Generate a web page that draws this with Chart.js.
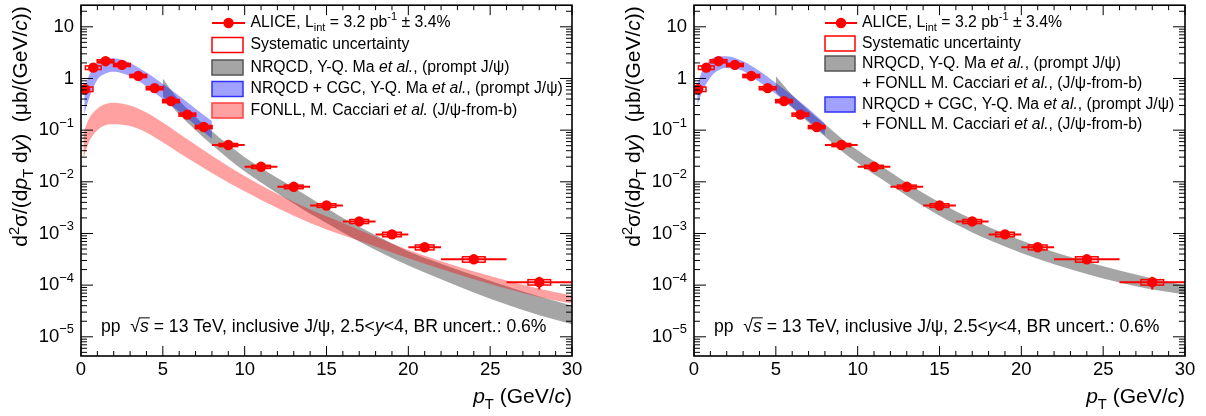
<!DOCTYPE html>
<html>
<head>
<meta charset="utf-8">
<script src="https://cdn.jsdelivr.net/npm/chart.js@4.4.1/dist/chart.umd.min.js"></script>
<style>
  html, body { margin: 0; padding: 0; background: #fff; }
  #wrap { position: relative; width: 1206px; height: 416px; }
  canvas { position: absolute; top: 0; }
</style>
</head>
<body>
<div id="wrap">
  <canvas id="left" width="603" height="416" style="left:0"></canvas>
  <canvas id="right" width="603" height="416" style="left:603px"></canvas>
</div>
<script>
// ALICE inclusive J/psi, pp 13 TeV, 2.5<y<4
const pt     = [0.25, 0.75, 1.5, 2.5, 3.5, 4.5, 5.5, 6.5, 7.5, 9, 11, 13, 15, 17, 19, 21, 24, 28];
const ptLow  = [0, 0.5, 1, 2, 3, 4, 5, 6, 7, 8, 10, 12, 14, 16, 18, 20, 22, 26];
const ptHigh = [0.5, 1, 2, 3, 4, 5, 6, 7, 8, 10, 12, 14, 16, 18, 20, 22, 26, 30];
const xsec   = [0.62, 1.62, 2.16, 1.83, 1.12, 0.65, 0.365, 0.2, 0.115, 0.0516, 0.0195, 0.008,
                0.00348, 0.00171, 9.6e-4, 5.4e-4, 3.16e-4, 1.14e-4];
const statPct = [1, 1, 1, 1, 1, 1, 1, 1, 1, 1.5, 2, 2.5, 3, 4, 5, 6, 8, 28];
const systPct = [10, 8, 7, 7, 7, 7, 7, 7, 7, 7, 7, 8, 8, 9, 10, 11, 12, 12];

// NRQCD prompt (left panel)
const nrqcdPt = [5, 5.5, 6, 7, 8, 9, 10, 11, 12, 13, 14, 15, 16, 17, 18, 19, 20, 22, 24, 26, 28, 30];
const nrqcdHi = [1.0, 0.6, 0.38, 0.18, 0.095, 0.052, 0.03, 0.0185, 0.0118, 0.0077, 0.0049, 0.0031,
                 0.002, 0.00135, 9.2e-4, 6.4e-4, 4.5e-4, 2.6e-4, 1.55e-4, 9.5e-5, 6.0e-5, 4.0e-5];
const nrqcdLo = [0.45, 0.3, 0.2, 0.1, 0.052, 0.028, 0.016, 0.0097, 0.006, 0.0038, 0.0024, 0.0016,
                 0.00105, 7.0e-4, 4.8e-4, 3.35e-4, 2.4e-4, 1.3e-4, 7.2e-5, 4.2e-5, 2.6e-5, 1.75e-5];

// NRQCD + CGC prompt (left panel)
const cgcPt = [0.2, 0.5, 1, 1.5, 2, 3, 4, 5, 6, 7, 8];
const cgcHi = [0.62, 1.15, 1.9, 2.35, 2.45, 2.0, 1.3, 0.78, 0.46, 0.26, 0.15];
const cgcLo = [0.2, 0.42, 0.95, 1.25, 1.35, 1.1, 0.7, 0.4, 0.23, 0.125, 0.068];

// FONLL non-prompt (left panel)
const fonllPt = [0.15, 0.5, 1, 1.5, 2, 3, 4, 5, 6, 7, 8, 9, 10, 12, 14, 16, 18, 20, 22, 25, 28, 30];
const fonllHi = [0.09, 0.17, 0.26, 0.32, 0.34, 0.30, 0.22, 0.14, 0.085, 0.052, 0.032, 0.02, 0.013,
                 0.0058, 0.0029, 0.0016, 8.6e-4, 4.8e-4, 2.9e-4, 1.5e-4, 8.5e-5, 6.3e-5];
const fonllLo = [0.028, 0.06, 0.1, 0.125, 0.13, 0.12, 0.09, 0.058, 0.036, 0.023, 0.0148, 0.0097, 0.0066,
                 0.0031, 0.0016, 9.2e-4, 5.6e-4, 3.3e-4, 2.05e-4, 1.05e-4, 5.9e-5, 4.4e-5];

// NRQCD + FONLL (right panel)
const combPt = [5, 5.5, 6, 7, 8, 9, 10, 11, 12, 13, 14, 15, 16, 17, 18, 20, 22, 24, 26, 28, 30];
const combHi = [1.1, 0.72, 0.48, 0.24, 0.13, 0.07, 0.041, 0.025, 0.0155, 0.0095, 0.0061, 0.004,
                0.0027, 0.0019, 0.00133, 7.3e-4, 4.4e-4, 2.85e-4, 1.92e-4, 1.35e-4, 9.8e-5];
const combLo = [0.55, 0.38, 0.27, 0.14, 0.075, 0.04, 0.023, 0.014, 0.0087, 0.0054, 0.0034, 0.0022,
                0.0015, 0.00105, 7.6e-4, 4.2e-4, 2.55e-4, 1.65e-4, 1.12e-4, 8.2e-5, 6.6e-5];

// NRQCD + CGC + FONLL (right panel)
const combCgcHi = [0.75, 1.4, 2.3, 2.65, 2.7, 2.15, 1.4, 0.82, 0.47, 0.26, 0.135];
const combCgcLo = [0.3, 0.55, 1.05, 1.45, 1.6, 1.4, 0.85, 0.5, 0.28, 0.15, 0.08];

const xTicks = [0, 5, 10, 15, 20, 25, 30];
const yTicks = [1e-5, 1e-4, 1e-3, 1e-2, 1e-1, 1, 10];
const yTickLabels = [['10', '\u22125'], ['10', '\u22124'], ['10', '\u22123'], ['10', '\u22122'],
                     ['10', '\u22121'], ['1', ''], ['10', '']];

const FONT = '"Liberation Sans", Arial, Helvetica, sans-serif';
const RED = '#ff0000';
const GREY = '#a5a5a5';
const BLUE = 'rgba(0,0,255,0.37)';
const PINK = 'rgba(255,0,0,0.37)';

function setFont(ctx, st, size) {
  const sz = (st.includes('b') || st.includes('p')) ? size * 0.7 : size;
  ctx.font = (st.includes('i') ? 'italic ' : '') + sz + 'px ' + FONT;
  return sz;
}

// parts: [text, style]  style: i=italic b=subscript p=superscript o=overline
function rich(ctx, parts, x, y, size, align) {
  let w = 0;
  for (const [t, st] of parts) { setFont(ctx, st, size); w += ctx.measureText(t).width; }
  let cx = align === 'right' ? x - w : align === 'center' ? x - w / 2 : x;
  for (const [t, st] of parts) {
    setFont(ctx, st, size);
    const dy = st.includes('b') ? size * 0.3 : st.includes('p') ? -size * 0.38 : 0;
    ctx.fillText(t, cx, y + dy);
    const tw = ctx.measureText(t).width;
    if (st.includes('o')) {
      ctx.save();
      ctx.lineWidth = 1;
      ctx.strokeStyle = ctx.fillStyle;
      ctx.beginPath();
      ctx.moveTo(cx - 1, y - size * 0.52);
      ctx.lineTo(cx + tw + 1, y - size * 0.52);
      ctx.stroke();
      ctx.restore();
    }
    cx += tw;
  }
  return w;
}

function band(pts, hi, lo, color) {
  return [
    { data: pts.map((x, i) => ({ x, y: hi[i] })), fill: '+1', backgroundColor: color,
      borderWidth: 0, pointRadius: 0, cubicInterpolationMode: 'monotone' },
    { data: pts.map((x, i) => ({ x, y: lo[i] })), fill: false, backgroundColor: color,
      borderWidth: 0, pointRadius: 0, cubicInterpolationMode: 'monotone' }
  ];
}

function drawErrors(chart) {
  const { ctx, chartArea: a, scales: { x: xs, y: ys } } = chart;
  ctx.save();
  ctx.beginPath();
  ctx.rect(a.left, a.top, a.width, a.height);
  ctx.clip();
  ctx.strokeStyle = RED;
  for (let i = 0; i < pt.length; i++) {
    const yc = ys.getPixelForValue(xsec[i]);
    // bin width bar
    ctx.lineWidth = 2;
    ctx.beginPath();
    ctx.moveTo(xs.getPixelForValue(ptLow[i]), yc);
    ctx.lineTo(xs.getPixelForValue(ptHigh[i]), yc);
    // statistical bar
    const s = xsec[i] * statPct[i] / 100;
    ctx.moveTo(xs.getPixelForValue(pt[i]), ys.getPixelForValue(xsec[i] + s));
    ctx.lineTo(xs.getPixelForValue(pt[i]), ys.getPixelForValue(xsec[i] - s));
    ctx.stroke();
    // systematic box
    const hw = 0.45 + 0.06 * (ptHigh[i] - ptLow[i]);
    const sy = xsec[i] * systPct[i] / 100;
    const x1 = xs.getPixelForValue(pt[i] - hw), x2 = xs.getPixelForValue(pt[i] + hw);
    const y1 = ys.getPixelForValue(xsec[i] + sy), y2 = ys.getPixelForValue(xsec[i] - sy);
    ctx.lineWidth = 1.5;
    ctx.strokeRect(x1, y1, x2 - x1, y2 - y1);
  }
  ctx.restore();
}

function drawAxes(chart, o) {
  const { ctx, chartArea: a, scales: { x: xs, y: ys } } = chart;
  ctx.save();
  ctx.strokeStyle = '#000';
  ctx.fillStyle = '#000';
  ctx.lineWidth = 1;
  ctx.beginPath();
  for (let v = 0; v <= 30; v++) {
    const px = xs.getPixelForValue(v);
    const len = v % 5 === 0 ? 10 : 5;
    ctx.moveTo(px, a.bottom); ctx.lineTo(px, a.bottom - len);
    ctx.moveTo(px, a.top); ctx.lineTo(px, a.top + len);
  }
  for (let e = -6; e <= 1; e++) {
    for (let m = 1; m <= 9; m++) {
      const v = m * Math.pow(10, e);
      if (v < ys.min || v > ys.max) continue;
      const py = ys.getPixelForValue(v);
      const len = m === 1 ? 12 : 6;
      ctx.moveTo(a.left, py); ctx.lineTo(a.left + len, py);
      ctx.moveTo(a.right, py); ctx.lineTo(a.right - len, py);
    }
  }
  ctx.stroke();
  ctx.lineWidth = 1.6;
  ctx.strokeRect(a.left, a.top, a.width, a.height);

  ctx.textBaseline = 'middle';
  ctx.textAlign = 'left';
  xTicks.forEach(v => rich(ctx, [[String(v), '']], xs.getPixelForValue(v), 370, 18.5, 'center'));
  yTicks.forEach((v, i) => {
    const [base, sup] = yTickLabels[i];
    const parts = [[base, '']];
    if (sup) parts.push([sup, 'p']);
    rich(ctx, parts, a.left - 7, ys.getPixelForValue(v), 18.5, 'right');
  });

  // axis titles
  ctx.textBaseline = 'alphabetic';
  rich(ctx, [['p', 'i'], ['T', 'b'], [' (GeV/', ''], ['c', 'i'], [')', '']], a.right, 403, 21, 'right');
  const yTitle = [['d', ''], ['2', 'p'], ['\u03c3/(d', ''], ['p', 'i'], ['T', 'b'], [' d', ''], ['y', 'i'],
                  [')  (\u03bcb/(GeV/', ''], ['c', 'i'], ['))', '']];
  let tw = 0;
  for (const [t, st] of yTitle) { setFont(ctx, st, 21); tw += ctx.measureText(t).width; }
  ctx.save();
  ctx.translate(a.left - 54, a.top + 1 + tw);
  ctx.rotate(-Math.PI / 2);
  rich(ctx, yTitle, 0, 0, 21, 'left');
  ctx.restore();

  // annotation
  ctx.textBaseline = 'middle';
  rich(ctx, [['pp  ', ''], ['\u221a', ''], ['s', 'io'], [' = 13 TeV, inclusive J/\u03c8, 2.5<', ''], ['y', 'i'],
             ['<4, BR uncert.: 0.6%', '']], a.left + 20, 327, 17.6, 'left');
  ctx.restore();
}

function drawLegend(chart, o) {
  const { ctx } = chart;
  ctx.save();
  ctx.translate(-o.offset, 0);
  ctx.textBaseline = 'middle';
  ctx.fillStyle = '#000';
  const L = o.legend;
  for (const row of L.rows) {
    const y = row.y;
    if (row.kind === 'data') {
      ctx.strokeStyle = RED;
      ctx.lineWidth = 2;
      ctx.beginPath();
      ctx.moveTo(L.x1, y); ctx.lineTo(L.x2, y);
      ctx.stroke();
      ctx.fillStyle = RED;
      ctx.beginPath();
      ctx.arc((L.x1 + L.x2) / 2, y, 5.2, 0, Math.PI * 2);
      ctx.fill();
    } else if (row.kind) {
      const st = { syst: ['#fff', RED], grey: [GREY, '#555'], blue: [BLUE, '#3030ff'], pink: [PINK, '#ff4040'] }[row.kind];
      ctx.fillStyle = st[0];
      ctx.fillRect(L.x1, y - 7.5, L.x2 - L.x1 - 2, 15);
      ctx.strokeStyle = st[1];
      ctx.lineWidth = 1.5;
      ctx.strokeRect(L.x1, y - 7.5, L.x2 - L.x1 - 2, 15);
    }
    ctx.fillStyle = '#000';
    rich(ctx, row.text, L.tx, y, 15.8, 'left');
  }
  ctx.restore();
}

const decor = {
  id: 'decor',
  beforeDatasetDraw(chart, args) { if (args.index === 0) drawErrors(chart); },
  afterDraw(chart, args, opts) { drawAxes(chart, opts); drawLegend(chart, opts); }
};

const aliceText = [['ALICE, L', ''], ['int', 'b'], [' = 3.2 pb', ''], ['-1', 'p'], [' \u00b1 3.4%', '']];
const fonllPlus = [['+ FONLL M. Cacciari ', ''], ['et al.', 'i'], [', (J/\u03c8-from-b)', '']];

function makeChart(id, bands, pad, decorOpts) {
  const dataSet = {
    data: pt.map((x, i) => ({ x, y: xsec[i] })),
    showLine: false, pointRadius: 5.2, pointHoverRadius: 5.2,
    pointBackgroundColor: RED, pointBorderWidth: 0, borderColor: RED
  };
  return new Chart(document.getElementById(id), {
    type: 'line',
    data: { datasets: [dataSet, ...bands] },
    options: {
      responsive: false,
      animation: false,
      layout: { padding: pad },
      events: [],
      scales: {
        x: { type: 'linear', min: 0, max: 30, display: false },
        y: { type: 'logarithmic', min: 4.25e-6, max: 26.2, display: false }
      },
      plugins: { legend: { display: false }, tooltip: { enabled: false }, decor: decorOpts }
    },
    plugins: [decor]
  });
}

makeChart('left',
  [...band(fonllPt, fonllHi, fonllLo, PINK), ...band(cgcPt, cgcHi, cgcLo, BLUE), ...band(nrqcdPt, nrqcdHi, nrqcdLo, GREY)],
  { left: 81, top: 4, right: 31, bottom: 60 },
  { offset: 0, legend: { x1: 212, x2: 245, tx: 250.5, rows: [
    { y: 23, kind: 'data', text: aliceText },
    { y: 45, kind: 'syst', text: [['Systematic uncertainty', '']] },
    { y: 67.5, kind: 'grey', text: [['NRQCD, Y-Q. Ma ', ''], ['et al.', 'i'], [', (prompt J/\u03c8)', '']] },
    { y: 89, kind: 'blue', text: [['NRQCD + CGC, Y-Q. Ma ', ''], ['et al.', 'i'], [', (prompt J/\u03c8)', '']] },
    { y: 110.5, kind: 'pink', text: [['FONLL, M. Cacciari ', ''], ['et al.', 'i'], [' (J/\u03c8-from-b)', '']] }
  ] } });

makeChart('right',
  [...band(cgcPt, combCgcHi, combCgcLo, BLUE), ...band(combPt, combHi, combLo, GREY)],
  { left: 91, top: 4, right: 21, bottom: 60 },
  { offset: 603, legend: { x1: 825, x2: 857, tx: 862, rows: [
    { y: 23, kind: 'data', text: aliceText },
    { y: 43.5, kind: 'syst', text: [['Systematic uncertainty', '']] },
    { y: 63.5, kind: 'grey', text: [['NRQCD, Y-Q. Ma ', ''], ['et al.', 'i'], [', (prompt J/\u03c8)', '']] },
    { y: 84, text: fonllPlus },
    { y: 104.5, kind: 'blue', text: [['NRQCD + CGC, Y-Q. Ma ', ''], ['et al.', 'i'], [', (prompt J/\u03c8)', '']] },
    { y: 125, text: fonllPlus }
  ] } });
</script>
</body>
</html>
